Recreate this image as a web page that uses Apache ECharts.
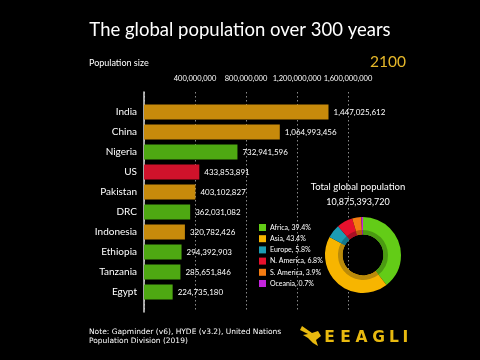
<!DOCTYPE html>
<html><head><meta charset="utf-8">
<script src="https://cdn.jsdelivr.net/npm/echarts@6/dist/echarts.min.js"></script>
<style>html,body{margin:0;padding:0;background:#000}#c{width:480px;height:360px}</style>
</head><body><div id="c"></div>
<script>
const countries = ['India','China','Nigeria','US','Pakistan','DRC','Indonesia','Ethiopia','Tanzania','Egypt'];
const populations = [1447025612,1064993456,732941596,433853891,403102827,362031082,320782426,294392903,285651846,224735180];
const countryRegion = ['Asia','Asia','Africa','N. America','Asia','Africa','Asia','Africa','Africa','Africa'];
const regions = ['Africa','Asia','Europe','N. America','S. America','Oceania'];
const regionShares = [39.4,43.4,5.8,6.8,3.9,0.7];
const totalPopulation = '10,875,393,720';
const axisTicks = [0,400000000,800000000,1200000000,1600000000];
const year = '2100';

const barColors = {'Asia':'#C78A0B','Africa':'#4EA812','N. America':'#D0122B','Europe':'#1A9BB5','S. America':'#F27A14','Oceania':'#C424DD'};
const pieColors = ['#63CC17','#F7B500','#1C9CB3','#E8112D','#F57C12','#C424DD'];
const pieInner = ['#4B9A12','#B98A0A','#167688','#A90F23','#B85C0E','#921BA6'];

const fmt = v => v.toLocaleString('en-US');
const cats = [''].concat(countries, ['']);
const barData = [null].concat(populations.map((v,i)=>({value:v,itemStyle:{color:barColors[countryRegion[i]]}})), [null]);

const logoLetters = ['E','E','A','G','L','I'];
const logoX = [329.5,345.5,361.5,378.5,394,405.5];

const chart = echarts.init(document.getElementById('c'));
chart.setOption({
  backgroundColor:'#000',
  animation:false,
  grid:{left:144, top:92, width:204, height:220, containLabel:false},
  xAxis:{type:'value', position:'top', min:axisTicks[0], max:axisTicks[axisTicks.length-1], interval:axisTicks[1]-axisTicks[0],
    axisLine:{show:false}, axisTick:{show:false},
    axisLabel:{color:'#fff', fontSize:7.5, fontFamily:'Lato', margin:9, formatter:v=> v===0?'':fmt(v)},
    splitLine:{show:true, lineStyle:{color:'#8a8a8a', type:[1.5,2.5], width:1}}},
  yAxis:{type:'category', inverse:true, data:cats, boundaryGap:false,
    axisLine:{show:true, lineStyle:{color:'#d8d8d8', width:1.5}}, axisTick:{show:false},
    axisLabel:{color:'#fff', fontSize:10, fontFamily:'Lato', margin:7}},
  legend:{orient:'vertical', left:254, top:219, itemWidth:7, itemHeight:7, itemGap:4.2, icon:'rect',
    textStyle:{color:'#fff', fontSize:7, fontFamily:'Lato', padding:[0,0,0,-1]},
    data:regions, formatter:n=> n+', '+regionShares[regions.indexOf(n)]+'%'},
  series:[
    {type:'bar', data:barData, barWidth:15,
     label:{show:true, position:'right', distance:5, color:'#fff', fontSize:8, fontFamily:'Lato', formatter:p=>fmt(p.value)}},
    {type:'pie', name:'regions', center:[363,255], radius:[20.5,38], startAngle:90, clockwise:true,
     label:{show:false}, labelLine:{show:false}, silent:true, emphasis:{disabled:true},
     data:regions.map((r,i)=>({name:r, value:regionShares[i], itemStyle:{color:pieColors[i]}}))},
    {type:'pie', name:'inner', center:[363,255], radius:[20.5,25], startAngle:90, clockwise:true,
     label:{show:false}, labelLine:{show:false}, silent:true, emphasis:{disabled:true},
     data:regions.map((r,i)=>({name:r+' ', value:regionShares[i], itemStyle:{color:pieInner[i]}}))}
  ],
  graphic:[
    {type:'text', left:'center', top:21, style:{text:'The global population over 300 years', fill:'#fff', font:'18.5px Lato'}},
    {type:'text', left:89, top:59, style:{text:'Population size', fill:'#fff', font:'9px Lato'}},
    {type:'text', right:74, top:54, style:{text:year, fill:'#E6B82A', font:'15.5px Lato'}},
    {type:'text', x:358, y:181.5, style:{text:'Total global population', fill:'#fff', font:'9.5px Lato', textAlign:'center'}},
    {type:'text', x:358, y:198, style:{text:totalPopulation, fill:'#fff', font:'9px Lato', textAlign:'center'}},
    {type:'text', left:89, top:328, style:{text:'Note: Gapminder (v6), HYDE (v3.2), United Nations\nPopulation Division (2019)', fill:'#fff', font:'7.5px "DejaVu Sans"', lineHeight:9}},
    ...logoLetters.map((l,i)=>({type:'text', x:logoX[i], y:330, style:{text:l, fill:'#E8B90F', font:'bold 15.5px "DejaVu Sans"', textAlign:'center'}})),
    {type:'polygon', shape:{points:[[302,326],[312,333],[318,331],[321,336],[316,340],[318,346],[313,343],[308,338],[303,335],[308,334],[300,330]]}, style:{fill:'#E8B90F'}}
  ]
});
</script></body></html>
